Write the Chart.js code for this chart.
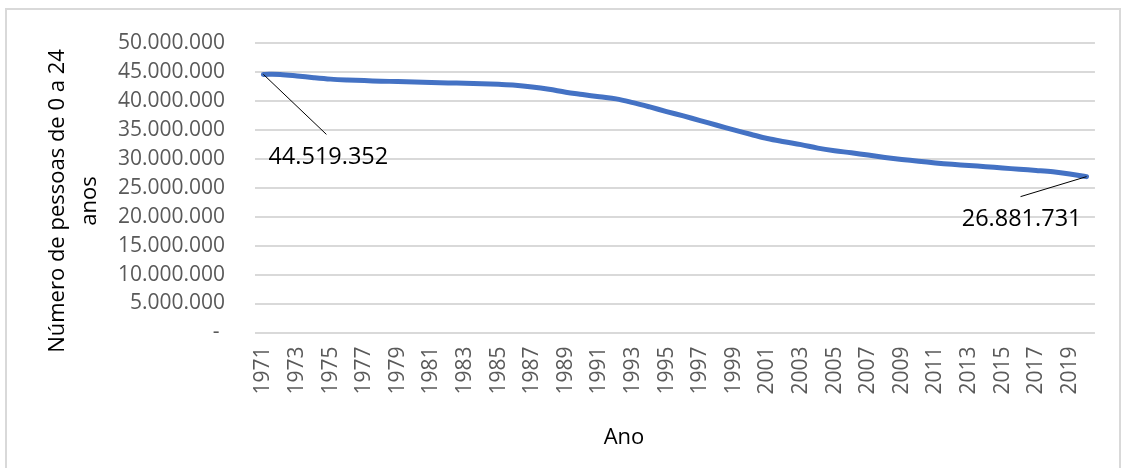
<!DOCTYPE html>
<html>
<head>
<meta charset="utf-8">
<script src="https://cdn.jsdelivr.net/npm/chart.js@4"></script>
<style>
  html, body { margin: 0; padding: 0; background: #ffffff; }
  #wrap { position: relative; width: 1126px; height: 468px; overflow: hidden; }
  #frame { position: absolute; left: 5px; top: 8px; width: 1116px; height: 520px; border: 2px solid #d9d9d9; box-sizing: border-box; }
  #chart { position: absolute; left: 0; top: 0; }
</style>
</head>
<body>
<div id="wrap">
  <div id="frame"></div>
  <canvas id="chart" width="1126" height="468"></canvas>
</div>
<script>
// Data
const years = [1971, 1972, 1973, 1974, 1975, 1976, 1977, 1978, 1979, 1980,
               1981, 1982, 1983, 1984, 1985, 1986, 1987, 1988, 1989, 1990,
               1991, 1992, 1993, 1994, 1995, 1996, 1997, 1998, 1999, 2000,
               2001, 2002, 2003, 2004, 2005, 2006, 2007, 2008, 2009, 2010,
               2011, 2012, 2013, 2014, 2015, 2016, 2017, 2018, 2019, 2020];

const population = [44519352, 44500000, 44250000, 43950000, 43700000, 43550000, 43450000, 43350000, 43280000, 43220000,
                    43120000, 43050000, 42980000, 42900000, 42800000, 42650000, 42350000, 41950000, 41450000, 41050000,
                    40650000, 40300000, 39650000, 38900000, 38100000, 37350000, 36550000, 35750000, 34950000, 34200000,
                    33450000, 32900000, 32400000, 31800000, 31350000, 31000000, 30600000, 30200000, 29850000, 29550000,
                    29250000, 29000000, 28800000, 28600000, 28380000, 28150000, 27950000, 27720000, 27350000, 26881731];

const yTitle = ["Número de pessoas de 0 a 24", "anos"];
const xTitle = "Ano";

// Format numbers with dots as thousands separator
function fmt(n) {
    return String(Math.round(n)).replace(/\B(?=(\d{3})+(?!\d))/g, ".");
}

// Plugin for the leader lines, value labels and axis titles
const annotations = {
    id: "annotations",
    afterDatasetsDraw(chart) {
        const ctx = chart.ctx;
        const meta = chart.getDatasetMeta(0);
        const first = meta.data[0];
        const last = meta.data[meta.data.length - 1];

        ctx.save();
        ctx.strokeStyle = "#000000";
        ctx.lineWidth = 1;
        ctx.beginPath();
        ctx.moveTo(first.x, first.y);
        ctx.lineTo(first.x + 63, first.y + 60);
        ctx.moveTo(last.x, last.y);
        ctx.lineTo(last.x - 66, last.y + 20);
        ctx.stroke();

        ctx.fillStyle = "#000000";
        ctx.font = "23.5px 'Open Sans'";
        ctx.textBaseline = "middle";
        ctx.textAlign = "left";
        ctx.fillText(fmt(population[0]), first.x + 5, first.y + 83);
        ctx.textAlign = "right";
        ctx.fillText(fmt(population[population.length - 1]), last.x - 5, last.y + 43);

        // axis titles
        ctx.font = "22px 'Open Sans'";
        ctx.textAlign = "center";
        ctx.fillText(xTitle, 624, 438);
        ctx.translate(0, 201);
        ctx.rotate(-Math.PI / 2);
        ctx.fillText(yTitle[0], 0, 58);
        ctx.fillText(yTitle[1], 0, 90);
        ctx.restore();
    }
};

Chart.defaults.font.family = "'Open Sans'";

new Chart(document.getElementById("chart"), {
    type: "line",
    data: {
        labels: years,
        datasets: [{
            data: population,
            borderColor: "#4472C4",
            borderWidth: 5,
            pointRadius: 0,
            tension: 0.35,
            borderCapStyle: "round",
            borderJoinStyle: "round"
        }]
    },
    options: {
        responsive: false,
        animation: false,
        layout: { padding: { left: 0, right: 26, top: 38.5, bottom: 0 } },
        plugins: {
            legend: { display: false },
            tooltip: { enabled: false }
        },
        scales: {
            x: {
                offset: true,
                grid: { display: false, drawTicks: false },
                border: { display: false },
                afterFit: (scale) => { scale.height = 135.5; },
                ticks: {
                    autoSkip: false,
                    minRotation: 90,
                    maxRotation: 90,
                    padding: 14,
                    color: "#595959",
                    font: { size: 21 },
                    callback: (value, index) => index % 2 === 0 ? String(years[index]) : ""
                }
            },
            y: {
                min: 0,
                max: 50000000,
                afterFit: (scale) => { scale.width = 255; },
                grid: { color: "#d9d9d9", lineWidth: 2, drawTicks: false },
                border: { display: false },
                ticks: {
                    stepSize: 5000000,
                    padding: 30,
                    color: "#595959",
                    font: { size: 21 },
                    callback: (value) => value === 0 ? "- " : fmt(value)
                }
            }
        }
    },
    plugins: [annotations]
});
</script>
</body>
</html>
